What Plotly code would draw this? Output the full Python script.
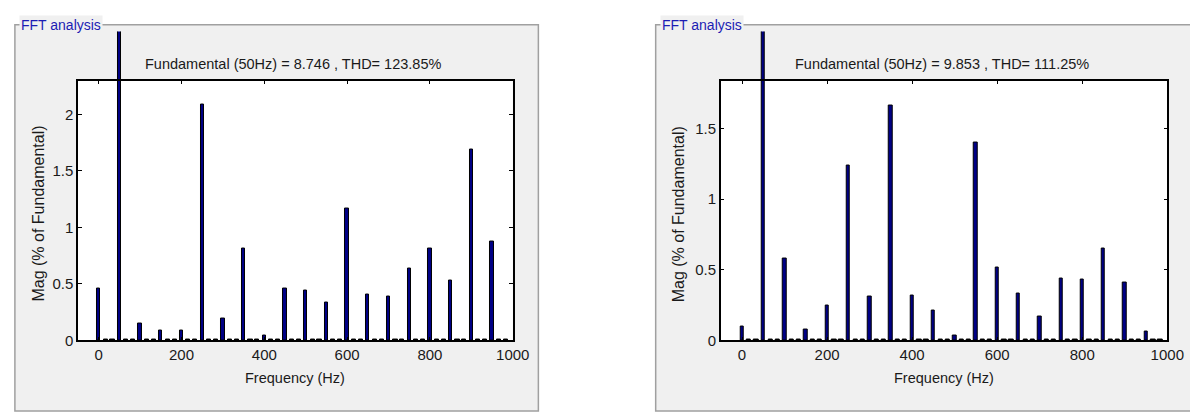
import plotly.graph_objects as go

W, H = 1198, 417

# ---------------- data ----------------
freq = [0, 50, 100, 150, 200, 250, 300, 350, 400, 450,
        500, 550, 600, 650, 700, 750, 800, 850, 900, 950]
mag_left = [0.46, 100, 0.15, 0.087, 0.087, 2.09, 0.19, 0.81, 0.04, 0.46,
            0.44, 0.34, 1.17, 0.41, 0.39, 0.64, 0.81, 0.53, 1.69, 0.88]
mag_right = [0.10, 100, 0.58, 0.08, 0.25, 1.24, 0.31, 1.66, 0.32, 0.21,
             0.035, 1.40, 0.52, 0.33, 0.17, 0.44, 0.43, 0.65, 0.41, 0.06]
inter_freq = [16.7, 33.3, 66.7, 83.3, 116.7, 133.3, 166.7, 183.3, 216.7, 233.3,
              266.7, 283.3, 316.7, 333.3, 366.7, 383.3, 416.7, 433.3, 466.7, 483.3,
              516.7, 533.3, 566.7, 583.3, 616.7, 633.3, 666.7, 683.3, 716.7, 733.3,
              766.7, 783.3, 816.7, 833.3, 866.7, 883.3, 916.7, 933.3, 966.7, 983.3]
inter_left = [0.009, 0.009, 0.009, 0.009, 0.009, 0.009, 0.009, 0.009, 0.009, 0.009,
              0.009, 0.009, 0.009, 0.009, 0.009, 0.009, 0.009, 0.009, 0.009, 0.009,
              0.009, 0.009, 0.009, 0.009, 0.009, 0.009, 0.009, 0.009, 0.009, 0.009,
              0.009, 0.009, 0.009, 0.009, 0.009, 0.009, 0.009, 0.009, 0.009, 0.009]
inter_right = [0.007, 0.007, 0.007, 0.007, 0.007, 0.007, 0.007, 0.007, 0.007, 0.007,
               0.007, 0.007, 0.007, 0.007, 0.007, 0.007, 0.007, 0.007, 0.007, 0.007,
               0.007, 0.007, 0.007, 0.007, 0.007, 0.007, 0.007, 0.007, 0.007, 0.007,
               0.007, 0.007, 0.007, 0.007, 0.007, 0.007, 0.007, 0.007, 0.007, 0.007]
titles = ["Fundamental (50Hz) = 8.746 , THD= 123.85%",
          "Fundamental (50Hz) = 9.853 , THD= 111.25%"]
ymax = [2.3, 1.84]
x_ticks = [0, 200, 400, 600, 800, 1000]
y_ticks = [[0, 0.5, 1, 1.5, 2], [0, 0.5, 1, 1.5]]
panel_label = "FFT analysis"
x_title = "Frequency (Hz)"
y_title = "Mag (% of Fundamental)"

# ---------------- geometry (pixels) ----------------
panels = [
    dict(px0=7, px1=538, py0=17, py1=411, ax0=71, ax1=512, ay_top=74, ay_bot=339,
         bar_top=24, label_x=11, title_x=289, ylab_x=31),
    dict(px0=657, px1=1215, py0=17, py1=411, ax0=723, ax1=1176, ay_top=74, ay_bot=339,
         bar_top=24, label_x=661, title_x=947, ylab_x=681),
]
mags = [(mag_left, inter_left), (mag_right, inter_right)]

def fx(p):
    return p / W

def fy(p):
    return 1 - p / H

FONT = "Liberation Sans, Arial, sans-serif"
BAR_FILL = "#000085"
BAR_W = 8

fig = go.Figure()
layout = dict(width=W, height=H, margin=dict(l=0, r=0, t=0, b=0),
              paper_bgcolor="white", plot_bgcolor="rgba(0,0,0,0)",
              showlegend=False, bargap=0, barmode="overlay",
              font=dict(family=FONT, color="#1a1a1a"))
shapes, annotations = [], []

for i, g in enumerate(panels):
    xa_bar, ya_bar = 2 * i + 1, 2 * i + 1
    xa_box, ya_box = 2 * i + 2, 2 * i + 2
    sx = lambda n: "x" if n == 1 else f"x{n}"
    sy = lambda n: "y" if n == 1 else f"y{n}"
    main, inter = mags[i]

    fig.add_trace(go.Bar(x=freq, y=main, width=BAR_W, xaxis=sx(xa_bar), yaxis=sy(ya_bar),
                         marker=dict(color=BAR_FILL, line=dict(color="black", width=1)),
                         hoverinfo="x+y"))
    fig.add_trace(go.Bar(x=inter_freq, y=inter, width=BAR_W + 2, xaxis=sx(xa_bar), yaxis=sy(ya_bar),
                         marker=dict(color="black", line=dict(color="black", width=1)),
                         hoverinfo="x+y"))
    fig.add_trace(go.Scatter(x=[None], y=[None], xaxis=sx(xa_box), yaxis=sy(ya_box),
                             hoverinfo="skip", showlegend=False))

    xdom = [fx(g["ax0"]), fx(g["ax1"])]
    ydom_bar = [fy(g["ay_bot"]), fy(g["bar_top"])]
    ydom_box = [fy(g["ay_bot"]), fy(g["ay_top"])]
    ybar_max = ymax[i] * (g["ay_bot"] - g["bar_top"]) / (g["ay_bot"] - g["ay_top"])

    layout["xaxis" + ("" if xa_bar == 1 else str(xa_bar))] = dict(
        domain=xdom, range=[-50, 1000], anchor=sy(ya_bar), visible=False, fixedrange=True)
    layout["yaxis" + ("" if ya_bar == 1 else str(ya_bar))] = dict(
        domain=ydom_bar, range=[0, ybar_max], anchor=sx(xa_bar), visible=False, fixedrange=True)

    axis_common = dict(showline=True, linecolor="black", linewidth=1.5, mirror="allticks",
                       ticks="inside", ticklen=4, tickwidth=1, tickcolor="black",
                       showgrid=False, zeroline=False, fixedrange=True,
                       tickfont=dict(family=FONT, size=15, color="#1a1a1a"))
    layout["xaxis" + str(xa_box)] = dict(domain=xdom, range=[-50, 1000], anchor=sy(ya_box),
                                         tickvals=x_ticks, ticktext=[str(t) for t in x_ticks],
                                         **axis_common)
    layout["yaxis" + str(ya_box)] = dict(domain=ydom_box, range=[0, ymax[i]], anchor=sx(xa_box),
                                         tickvals=y_ticks[i],
                                         ticktext=[f"{t:g}" for t in y_ticks[i]],
                                         **axis_common)

    # panel background & border
    shapes.append(dict(type="rect", xref="paper", yref="paper", layer="below",
                       x0=fx(g["px0"]), x1=fx(g["px1"]), y0=fy(g["py1"]), y1=fy(g["py0"]),
                       fillcolor="#f0f0f0", line=dict(color="#a0a0a0", width=1.5)))
    # white axes area
    shapes.append(dict(type="rect", xref="paper", yref="paper", layer="below",
                       x0=xdom[0], x1=xdom[1], y0=ydom_box[0], y1=ydom_box[1],
                       fillcolor="white", line=dict(width=0)))

    annotations.append(dict(text=panel_label, xref="paper", yref="paper",
                            x=fx(g["label_x"]), y=fy(g["py0"]), xanchor="left", yanchor="middle",
                            showarrow=False, bgcolor="#f0f0f0", borderpad=1,
                            font=dict(family=FONT, size=14, color="#1c1cb4")))
    annotations.append(dict(text=titles[i], xref="paper", yref="paper",
                            x=fx(g["title_x"]), y=fy(57), xanchor="center", yanchor="middle",
                            showarrow=False, font=dict(family=FONT, size=14.5, color="#1a1a1a")))
    annotations.append(dict(text=x_title, xref="paper", yref="paper",
                            x=fx((g["ax0"] + g["ax1"]) / 2), y=fy(377), xanchor="center",
                            yanchor="middle", showarrow=False,
                            font=dict(family=FONT, size=14.5, color="#1a1a1a")))
    annotations.append(dict(text=y_title, xref="paper", yref="paper", textangle=-90,
                            x=fx(g["ylab_x"]), y=fy(210),
                            xanchor="center", yanchor="middle", showarrow=False,
                            font=dict(family=FONT, size=16, color="#1a1a1a")))

layout["shapes"] = shapes
layout["annotations"] = annotations
fig.update_layout(**layout)
fig.write_html("out.html")
